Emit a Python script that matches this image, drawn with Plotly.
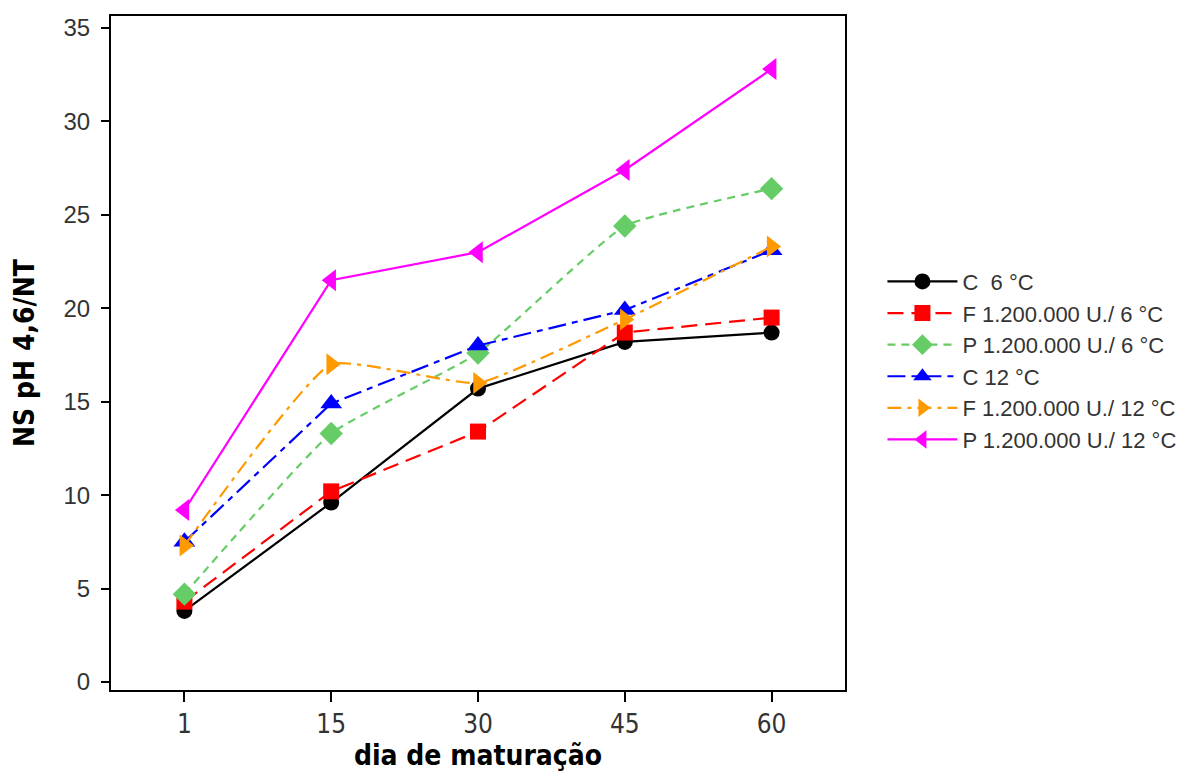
import plotly.graph_objects as go

days = ["1", "15", "30", "45", "60"]
names = ["C  6 °C", "F 1.200.000 U./ 6 °C", "P 1.200.000 U./ 6 °C",
         "C 12 °C", "F 1.200.000 U./ 12 °C", "P 1.200.000 U./ 12 °C"]
c6 = [3.8, 9.6, 15.7, 18.2, 18.7]
f6 = [4.3, 10.2, 13.4, 18.7, 19.5]
p6 = [4.7, 13.3, 17.6, 24.4, 26.4]
c12 = [7.5, 14.9, 18.0, 19.9, 23.1]
f12 = [7.3, 17.0, 16.0, 19.4, 23.3]
p12 = [9.2, 21.5, 23.0, 27.4, 32.8]

series = [c6, f6, p6, c12, f12, p12]
colors = ["black", "#ff0000", "#66cc66", "#0000ff", "#ff9900", "#ff00ff"]
symbols = ["circle", "square", "diamond", "triangle-up", "triangle-right", "triangle-left"]
dashes = ["solid", "16px,8px", "8px,6px", "18px,6px,6px,6px", "14px,6px,4px,6px", "solid"]
shapes = ["linear", "linear", "spline", "linear", "spline", "linear"]
sizes = [16, 16, 18, 19, 19, 19]

COND = "DejaVu Sans Condensed, Liberation Sans"

fig = go.Figure()
for n, s, c, sym, d, sh, sz in zip(names, series, colors, symbols, dashes, shapes, sizes):
    fig.add_trace(go.Scatter(
        x=days, y=s, name=n, mode="lines+markers",
        line=dict(color=c, width=2.2, dash=d, shape=sh, smoothing=0.4),
        marker=dict(symbol=sym, size=sz, color=c),
    ))

fig.update_layout(
    width=1178, height=764,
    margin=dict(l=103, r=341, t=8, b=82, autoexpand=False),
    paper_bgcolor="white", plot_bgcolor="white",
    font=dict(family=COND, color="#333333"),
    legend=dict(x=1.051, y=0.637, xanchor="left", yanchor="top",
                font=dict(size=22, family="Liberation Sans", color="#333333"),
                itemwidth=70, tracegroupgap=0, bgcolor="rgba(0,0,0,0)"),
    showlegend=True,
)
fig.update_xaxes(
    type="category", range=[-0.5, 4.5], automargin=False,
    showline=True, linecolor="black", linewidth=2, mirror=True,
    ticks="outside", ticklen=10, tickwidth=2, tickcolor="black",
    showgrid=False, zeroline=False,
    tickfont=dict(size=26, family="DejaVu Sans Condensed, Liberation Sans", color="#333333"),
    title=dict(text="<b>dia de maturação</b>",
               font=dict(size=28, family=COND, color="black"),
               standoff=5),
)
fig.update_yaxes(
    range=[-0.43, 35.64], tickvals=[0, 5, 10, 15, 20, 25, 30, 35], automargin=False,
    showline=True, linecolor="black", linewidth=2, mirror=True,
    ticks="outside", ticklen=8, tickwidth=2, tickcolor="black",
    ticklabelstandoff=6,
    showgrid=False, zeroline=False,
    tickfont=dict(size=24, family="Liberation Sans", color="#333333"),
    title=dict(text="<b>NS pH 4,6/NT</b>",
               font=dict(size=28, family=COND, color="black"),
               standoff=22),
)
fig.write_html("out.html")
